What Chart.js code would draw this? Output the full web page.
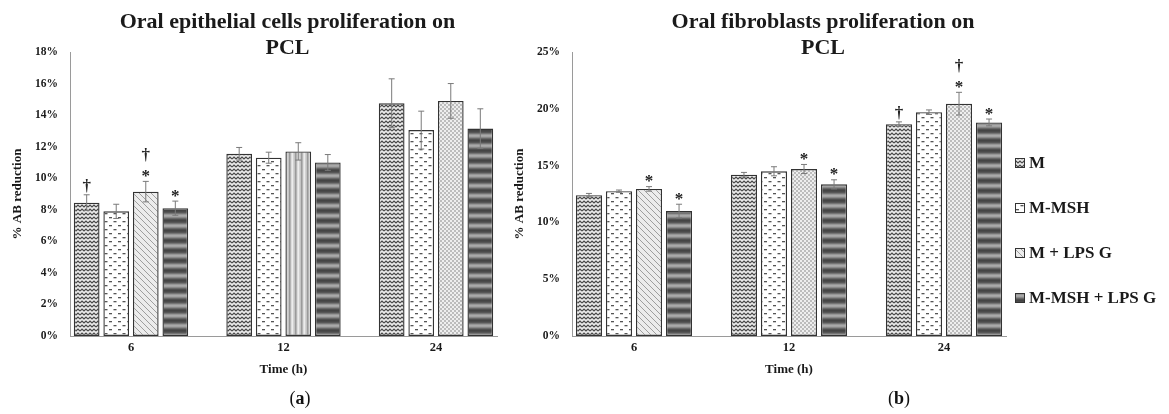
<!DOCTYPE html>
<html>
<head>
<meta charset="utf-8">
<script src="https://cdn.jsdelivr.net/npm/chart.js@4/dist/chart.umd.min.js"></script>
<style>
  body { margin: 0; background: #fff; width: 1169px; height: 414px; position: relative; overflow: hidden; }
  canvas { position: absolute; top: 0; }
  #chartA { left: 0; }
  #chartB { left: 502px; }
  .panel { position: absolute; top: 386px; width: 60px; text-align: center; font: 18px "Liberation Serif", serif; color: #111; line-height: 24px; }
</style>
</head>
<body>
<canvas id="chartA" width="502" height="414"></canvas>
<canvas id="chartB" width="667" height="414"></canvas>
<div class="panel" style="left:270px">(<b>a</b>)</div>
<div class="panel" style="left:869px">(<b>b</b>)</div>
<script>
const timeLabels = ['6', '12', '24'];
const groupNames = ['M', 'M-MSH', 'M + LPS G', 'M-MSH + LPS G'];

// (a) oral epithelial cells, % AB reduction
const epiM       = [8.45, 11.55, 14.75];
const epiMMSH    = [7.9, 11.3, 13.05];
const epiMLPS    = [9.15, 11.7, 14.9];
const epiMMSHLPS = [8.1, 11.0, 13.15];
const epiErrM       = [0.5, 0.4, 1.55];
const epiErrMMSH    = [0.45, 0.35, 1.2];
const epiErrMLPS    = [0.65, 0.55, 1.1];
const epiErrMMSHLPS = [0.45, 0.5, 1.25];
const epiMarksM       = ['†', '', ''];
const epiMarksMMSH    = ['', '', ''];
const epiMarksMLPS    = ['*†', '', ''];
const epiMarksMMSHLPS = ['*', '', ''];

// (b) oral fibroblasts, % AB reduction
const fibM       = [12.4, 14.2, 18.65];
const fibMMSH    = [12.75, 14.5, 19.7];
const fibMLPS    = [12.95, 14.7, 20.45];
const fibMMSHLPS = [11.0, 13.35, 18.8];
const fibErrM       = [0.15, 0.2, 0.2];
const fibErrMMSH    = [0.1, 0.4, 0.2];
const fibErrMLPS    = [0.2, 0.4, 1.0];
const fibErrMMSHLPS = [0.6, 0.4, 0.3];
const fibMarksM       = ['', '', '†'];
const fibMarksMMSH    = ['', '', ''];
const fibMarksMLPS    = ['*', '*', '*†'];
const fibMarksMMSHLPS = ['*', '*', '*'];

Chart.defaults.font.family = '"Liberation Serif", "Times New Roman", serif';
const ink = '#1a1a1a';

// fill textures, like the Excel pattern fills
function tile(w, h, draw) {
  const c = document.createElement('canvas');
  c.width = w; c.height = h;
  const g = c.getContext('2d');
  draw(g, w, h);
  return g.createPattern(c, 'repeat');
}
const fills = {
  wave: tile(8, 4, g => {
    g.fillStyle = '#ebebeb'; g.fillRect(0, 0, 8, 4);
    g.strokeStyle = '#474747'; g.lineWidth = 1.2;
    g.beginPath(); g.moveTo(0, 3); g.lineTo(2, 1); g.lineTo(4, 3); g.lineTo(6, 1); g.lineTo(8, 3); g.stroke();
  }),
  dash: tile(9, 8, g => {
    g.fillStyle = '#fff'; g.fillRect(0, 0, 9, 8);
    g.fillStyle = '#555';
    g.fillRect(1, 1, 3, 1.3); g.fillRect(5.5, 5, 3, 1.3);
  }),
  diag: tile(6, 6, g => {
    g.fillStyle = '#ececec'; g.fillRect(0, 0, 6, 6);
    g.strokeStyle = '#8a8a8a'; g.lineWidth = 0.8;
    for (let o = -6; o <= 6; o += 6) { g.beginPath(); g.moveTo(o, 0); g.lineTo(o + 6, 6); g.stroke(); }
  }),
  vstripe: tile(6, 1, g => {
    ['#c4c4c4', '#9a9a9a', '#b4b4b4', '#dcdcdc', '#ececec', '#d2d2d2'].forEach((c, i) => { g.fillStyle = c; g.fillRect(i, 0, 1, 1); });
  }),
  checker: tile(4, 4, g => {
    g.fillStyle = '#eeeeee'; g.fillRect(0, 0, 4, 4);
    g.fillStyle = '#bcbcbc'; g.fillRect(0, 0, 2, 2); g.fillRect(2, 2, 2, 2);
  }),
  hstripe: tile(1, 10, g => {
    ['#444', '#4a4a4a', '#575757', '#747474', '#969696', '#a9a9a9', '#a2a2a2', '#888', '#686868', '#4f4f4f'].forEach((c, i) => { g.fillStyle = c; g.fillRect(0, i, 1, 1); });
  })
};

const errorBars = {
  id: 'errorBars',
  afterDatasetsDraw(chart) {
    const ctx = chart.ctx;
    const y = chart.scales.y;
    ctx.save();
    chart.data.datasets.forEach((ds, di) => {
      chart.getDatasetMeta(di).data.forEach((bar, i) => {
        const v = ds.data[i].y, e = ds.errors[i];
        const top = y.getPixelForValue(v + e), bot = y.getPixelForValue(v - e);
        ctx.strokeStyle = '#7a7a7a';
        ctx.lineWidth = 1;
        ctx.beginPath();
        ctx.moveTo(bar.x, bot); ctx.lineTo(bar.x, top);
        ctx.moveTo(bar.x - 3, top); ctx.lineTo(bar.x + 3, top);
        ctx.moveTo(bar.x - 3, bot); ctx.lineTo(bar.x + 3, bot);
        ctx.stroke();
        // significance marks stacked above the error bar
        ctx.fillStyle = '#222';
        ctx.textAlign = 'center';
        ctx.textBaseline = 'alphabetic';
        ctx.font = 'bold 17px "Liberation Serif"';
        let cy = top - 9;
        for (const m of ds.marks[i]) {
          ctx.fillText(m, bar.x, cy + (m === '*' ? 8.5 : 5));
          cy -= 17;
        }
      });
    });
    ctx.restore();
  }
};

const panelTitle = {
  id: 'panelTitle',
  afterDraw(chart, args, opts) {
    const ctx = chart.ctx;
    const cx = (chart.chartArea.left + chart.chartArea.right) / 2 + opts.shift;
    ctx.save();
    ctx.fillStyle = ink;
    ctx.textAlign = 'center';
    ctx.textBaseline = 'middle';
    ctx.font = 'bold 22px "Liberation Serif"';
    opts.lines.forEach((t, i) => ctx.fillText(t, cx, 22 + i * 26));
    ctx.restore();
  }
};

const sideLegend = {
  id: 'sideLegend',
  afterDraw(chart, args, opts) {
    if (!opts.show) return;
    const ctx = chart.ctx;
    ctx.save();
    chart.data.datasets.forEach((ds, i) => {
      const x = chart.chartArea.right + 9;
      const y = opts.top + i * opts.step;
      ctx.fillStyle = ds.legendFill;
      ctx.fillRect(x, y - 5, 10, 10);
      ctx.strokeStyle = '#333';
      ctx.lineWidth = 1;
      ctx.strokeRect(x + 0.5, y - 4.5, 9, 9);
      ctx.fillStyle = ink;
      ctx.font = 'bold 17px "Liberation Serif"';
      ctx.textAlign = 'left';
      ctx.textBaseline = 'middle';
      ctx.fillText(ds.label, x + 14, y + 1);
    });
    ctx.restore();
  }
};

function buildChart(id, cfg) {
  return new Chart(document.getElementById(id), {
    type: 'bar',
    data: {
      datasets: cfg.series.map((s, k) => ({
        label: groupNames[k],
        data: timeLabels.map((t, i) => ({ x: i, y: s.values[i] })),
        errors: s.errors,
        marks: s.marks,
        backgroundColor: s.fills,
        legendFill: s.fills[0],
        borderColor: '#333',
        borderWidth: 1.4,
        borderSkipped: false,
        categoryPercentage: 0.775,
        barPercentage: 0.87
      }))
    },
    options: {
      responsive: false,
      animation: false,
      layout: { padding: { top: 52, left: 0, right: cfg.padRight, bottom: 37 } },
      plugins: {
        legend: { display: false },
        tooltip: { enabled: false },
        panelTitle: { lines: cfg.title, shift: cfg.titleShift },
        sideLegend: { show: cfg.legend, top: 163, step: 45 }
      },
      scales: {
        x: {
          type: 'linear', min: -0.4, max: 2.4, bounds: 'data', offset: false,
          grid: { display: false, drawTicks: false, offset: false },
          border: { color: '#9a9a9a' },
          afterBuildTicks: s => { s.ticks = timeLabels.map((t, i) => ({ value: i })); },
          ticks: {
            autoSkip: false, padding: 4, color: ink,
            font: { size: 12.5, weight: 'bold' },
            callback: v => timeLabels[v] ?? ''
          },
          title: { display: true, text: 'Time (h)', color: ink, font: { size: 13, weight: 'bold' }, padding: { top: 0, bottom: 0 } },
          afterFit: s => { s.height = 41; }
        },
        y: {
          min: 0, max: cfg.yMax,
          grid: { display: false, drawTicks: false },
          border: { color: '#9a9a9a' },
          ticks: {
            stepSize: cfg.yStep, padding: 12, color: ink,
            font: { size: 11.5, weight: 'bold' },
            callback: v => v + '%'
          },
          title: { display: true, text: '% AB reduction', color: ink, font: { size: 13, weight: 'bold' }, padding: { top: 10, bottom: 0 } },
          afterFit: s => { s.width = 70; }
        }
      }
    },
    plugins: [errorBars, panelTitle, sideLegend]
  });
}

buildChart('chartA', {
  title: ['Oral epithelial cells proliferation on', 'PCL'],
  titleShift: 4,
  yMax: 18, yStep: 2, padRight: 5, legend: false,
  series: [
    { values: epiM, errors: epiErrM, marks: epiMarksM, fills: [fills.wave, fills.wave, fills.wave] },
    { values: epiMMSH, errors: epiErrMMSH, marks: epiMarksMMSH, fills: [fills.dash, fills.dash, fills.dash] },
    { values: epiMLPS, errors: epiErrMLPS, marks: epiMarksMLPS, fills: [fills.diag, fills.vstripe, fills.checker] },
    { values: epiMMSHLPS, errors: epiErrMMSHLPS, marks: epiMarksMMSHLPS, fills: [fills.hstripe, fills.hstripe, fills.hstripe] }
  ]
});

buildChart('chartB', {
  title: ['Oral fibroblasts proliferation on', 'PCL'],
  titleShift: 34,
  yMax: 25, yStep: 5, padRight: 163, legend: true,
  series: [
    { values: fibM, errors: fibErrM, marks: fibMarksM, fills: [fills.wave, fills.wave, fills.wave] },
    { values: fibMMSH, errors: fibErrMMSH, marks: fibMarksMMSH, fills: [fills.dash, fills.dash, fills.dash] },
    { values: fibMLPS, errors: fibErrMLPS, marks: fibMarksMLPS, fills: [fills.diag, fills.checker, fills.checker] },
    { values: fibMMSHLPS, errors: fibErrMMSHLPS, marks: fibMarksMMSHLPS, fills: [fills.hstripe, fills.hstripe, fills.hstripe] }
  ]
});
</script>
</body>
</html>
